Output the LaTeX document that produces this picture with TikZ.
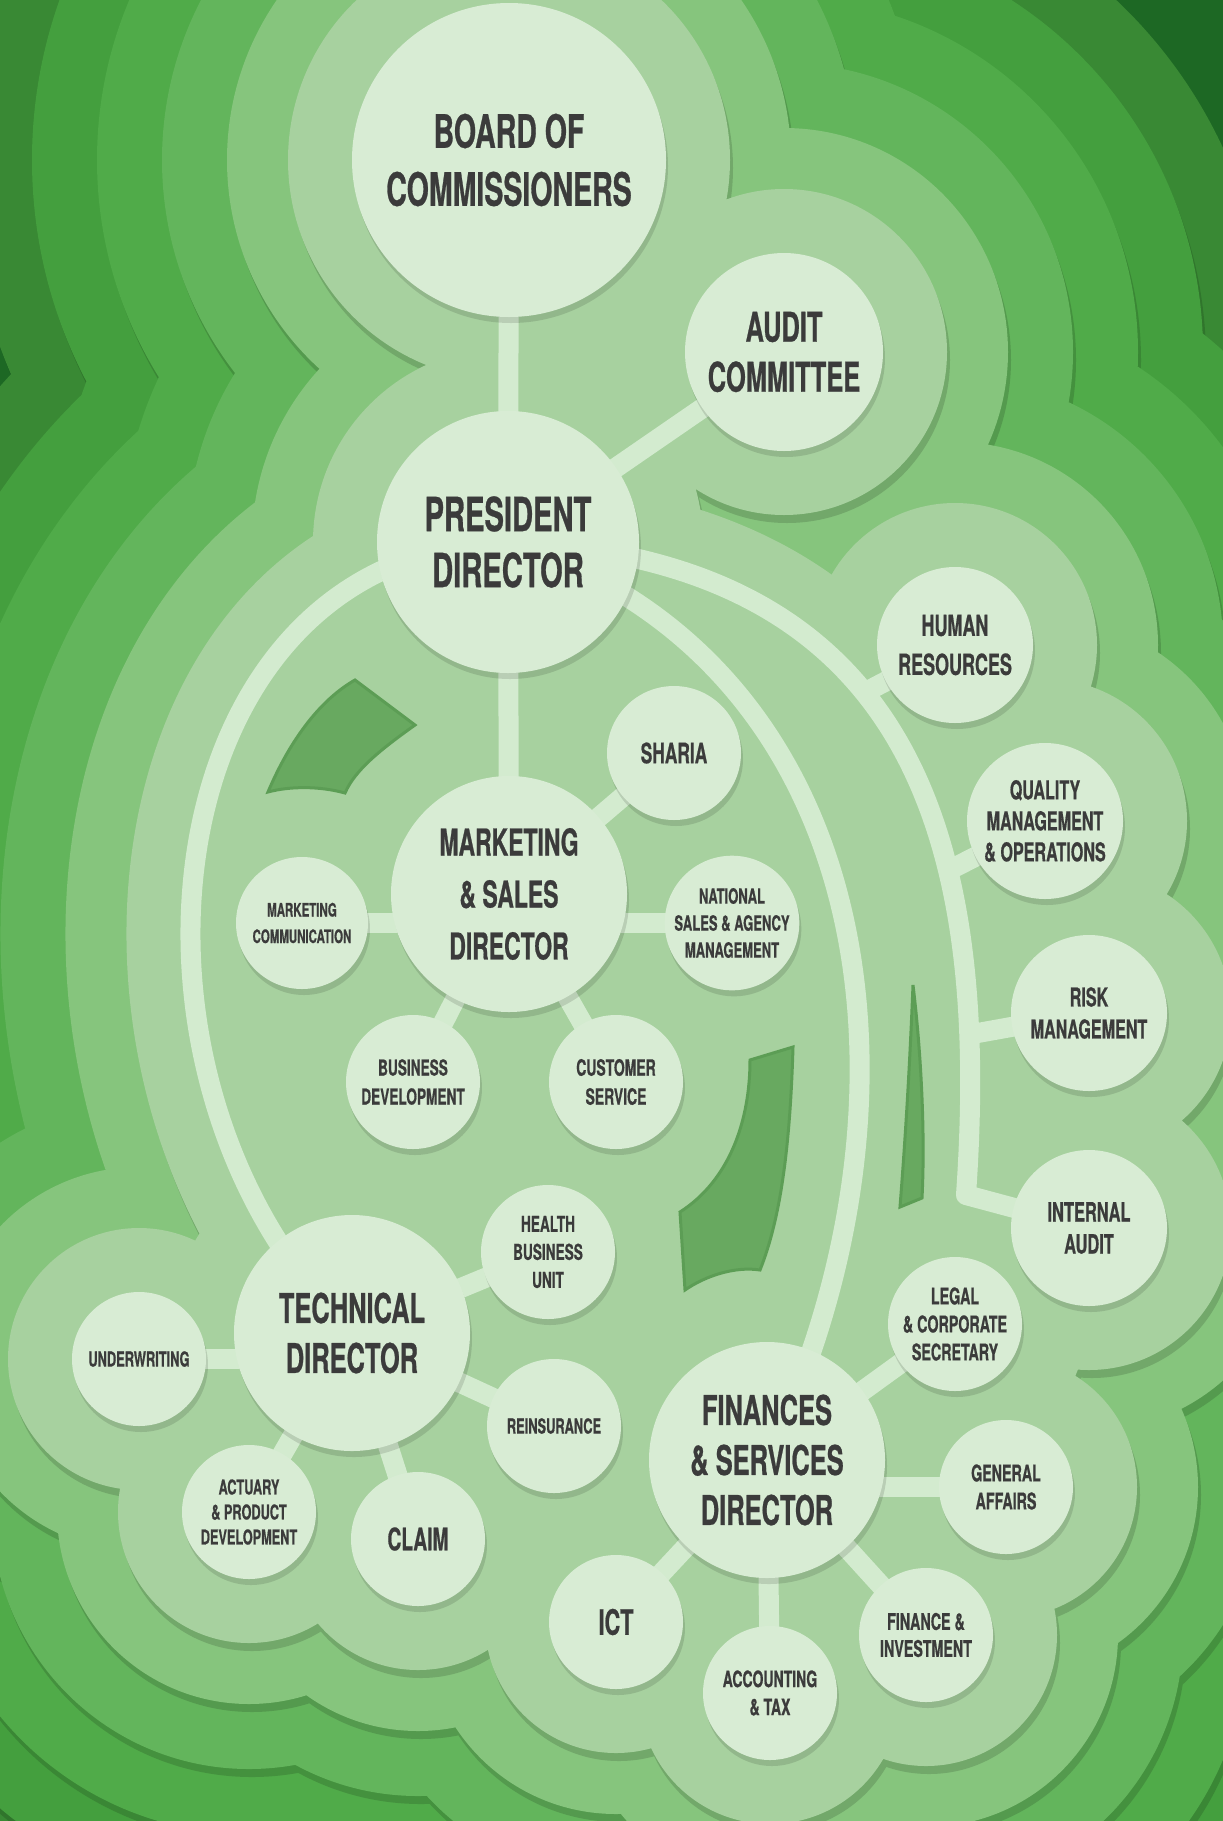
\documentclass[tikz,border=0pt]{standalone}
\usepackage{fontspec}
\setmainfont{TeX Gyre Heros}[FakeStretch=0.62, BoldFeatures={FakeBold=0.6}]
\usetikzlibrary{shadows}
\definecolor{nodefill}{HTML}{D8ECD4}
\definecolor{linkcol}{HTML}{D3EBCF}
\definecolor{ink}{HTML}{3B3B3B}
\definecolor{ringB}{HTML}{A7D19F}
\definecolor{ringC}{HTML}{86C57D}
\definecolor{ringD}{HTML}{63B55C}
\definecolor{ringE}{HTML}{50AB49}
\definecolor{ringF}{HTML}{449F3E}
\definecolor{ringG}{HTML}{398934}
\definecolor{bgdark}{HTML}{1D6824}
\definecolor{holecol}{HTML}{68A960}
\definecolor{holerim}{HTML}{5C9D55}
\pgfdeclarelayer{blobs}
\pgfdeclarelayer{links}
\pgfsetlayers{blobs,links,main}
\newcommand{\leftarc}{(pres.center) .. controls (150,550) and (90,1080) .. (tech.center)}
\newcommand{\midarc}{(pres.center) .. controls (880,660) and (940,1100) .. (fin.center)}
\newcommand{\rightarc}{(pres.center) .. controls (920,560) and (990,850) .. (bend) coordinate[pos=0.42] (hrjoin) coordinate[pos=0.66] (qmjoin) coordinate[pos=0.84] (rkjoin) -- (inaud.center)}
\newcommand{\blob}[2]{\fill[#2] \foreach \n/\r in {board/157,audit/99,pres/131,hr/78,sharia/67,mkt/118,mcomm/66,natsales/66,qmo/78,busdev/67,cserv/67,risk/78,inaud/78,health/67,tech/118,underw/67,reins/67,actuary/67,claim/67,legal/67,fin/118,genaff/67,ict/67,acctax/67,fininv/67} {(\n.center) circle ({\r+#1})}; \draw[#2, line width={2*#1*1pt}] \leftarc \midarc \rightarc;}
% ring with its shadow cast on the ring below
\newcommand{\ring}[3]{\begin{scope}[transform canvas={xshift=3pt, yshift=-8pt}] \blob{#1}{#3} \end{scope} \blob{#1}{#2}}
\newcommand{\core}[1]{\fill[#1] (pres.center) .. controls (150,550) and (90,1080) .. (tech.center) -- (fin.center) -- (inaud.center) -- (bend) .. controls (990,850) and (920,560) .. (pres.center) -- cycle; \fill[#1] (board.center) -- (audit.center) -- (pres.center) -- cycle;}
\tikzset{
  orgcircle/.style={circle, fill=nodefill, text=ink, align=center, inner sep=0pt, minimum size=#1*2pt,
    drop shadow={shadow xshift=2pt, shadow yshift=-6pt, opacity=0.12, fill=black}},
  lbl/.style 2 args={font=\fontsize{#1}{#2}\selectfont\bfseries},
  link/.style={draw=linkcol, line width=20pt},
  hole/.style={fill=holecol, draw=holerim, line width=3pt}
}

\begin{document}
\begin{tikzpicture}[x=1pt, y=-1pt]
        \useasboundingbox (0,0) rectangle (1223,1821);
        % top
        \node[orgcircle=157, lbl={46}{58}] (board) at (509,160) {BOARD OF\\COMMISSIONERS};
        \node[orgcircle=99, lbl={41}{50}] (audit) at (784,352) {AUDIT\\COMMITTEE};
        \node[orgcircle=131, lbl={47}{56}] (pres) at (508,542) {PRESIDENT\\DIRECTOR};
        % right column
        \node[orgcircle=78, lbl={29}{39}] (hr) at (955,645) {HUMAN\\RESOURCES};
        \node[orgcircle=78, lbl={26}{31}] (qmo) at (1045,821) {QUALITY\\MANAGEMENT\\\& OPERATIONS};
        \node[orgcircle=78, lbl={26}{32}] (risk) at (1089,1013) {RISK\\MANAGEMENT};
        \node[orgcircle=78, lbl={26.5}{32}] (inaud) at (1089,1228) {INTERNAL\\AUDIT};
        % marketing
        \node[orgcircle=118, lbl={37}{52}] (mkt) at (509,894) {MARKETING\\\& SALES\\DIRECTOR};
        \node[orgcircle=67, lbl={28}{34}] (sharia) at (674,753) {SHARIA};
        \node[orgcircle=66, lbl={18.5}{26.5}] (mcomm) at (302,923) {MARKETING\\COMMUNICATION};
        \node[orgcircle=66, lbl={21}{27}] (natsales) at (732,923) {NATIONAL\\SALES \& AGENCY\\MANAGEMENT};
        \node[orgcircle=67, lbl={22}{29}] (busdev) at (413,1082) {BUSINESS\\DEVELOPMENT};
        \node[orgcircle=67, lbl={22.5}{29}] (cserv) at (616,1082) {CUSTOMER\\SERVICE};
        % technical
        \node[orgcircle=118, lbl={41}{50}] (tech) at (352,1333) {TECHNICAL\\DIRECTOR};
        \node[orgcircle=67, lbl={22}{28}] (health) at (548,1252) {HEALTH\\BUSINESS\\UNIT};
        \node[orgcircle=67, lbl={20.7}{26}] (underw) at (139,1359) {UNDERWRITING};
        \node[orgcircle=67, lbl={20.7}{26}] (reins) at (554,1426) {REINSURANCE};
        \node[orgcircle=67, lbl={20.5}{25}] (actuary) at (249,1512) {ACTUARY\\\& PRODUCT\\DEVELOPMENT};
        \node[orgcircle=67, lbl={31}{36}] (claim) at (418,1539) {CLAIM};
        % finances
        \node[orgcircle=118, lbl={41}{50}] (fin) at (767,1460) {FINANCES\\\& SERVICES\\DIRECTOR};
        \node[orgcircle=67, lbl={23}{28}] (legal) at (955,1324) {LEGAL\\\& CORPORATE\\SECRETARY};
        \node[orgcircle=67, lbl={23}{28}] (genaff) at (1006,1487) {GENERAL\\AFFAIRS};
        \node[orgcircle=67, lbl={35}{40}] (ict) at (616,1622) {ICT};
        \node[orgcircle=67, lbl={22.6}{28}] (acctax) at (770,1693) {ACCOUNTING\\\& TAX};
        \node[orgcircle=67, lbl={23}{27}] (fininv) at (926,1635) {FINANCE \&\\INVESTMENT};

        \begin{pgfonlayer}{links}
        \coordinate (bend) at (966,1195);
        \draw[link] (board.center) -- (pres.center);
        \draw[link] (pres.center) -- (audit.center);
        \draw[link] (pres.center) -- (mkt.center);
        \draw[link] \leftarc;
        \draw[link] \midarc;
        \draw[link, line join=round] \rightarc;
        \draw[link] (hr.center) -- (hrjoin);
        \draw[link] (qmo.center) -- (qmjoin);
        \draw[link] (risk.center) -- (rkjoin);
        % marketing
        \draw[link] (mkt.center) -- (sharia.center);
        \draw[link] (mcomm.center) -- (mcomm.center -| mkt.center);
        \draw[link] (natsales.center) -- (natsales.center -| mkt.center);
        \draw[link] (mkt.center) -- (busdev.center);
        \draw[link] (mkt.center) -- (cserv.center);
        % technical
        \draw[link] (tech.center) -- (health.center);
        \draw[link] (underw.center) -- (underw.center -| tech.center);
        \draw[link] (tech.center) -- (reins.center);
        \draw[link] (tech.center) -- (actuary.center);
        \draw[link] (tech.center) -- (claim.center);
        % finances
        \draw[link] (fin.center) -- (legal.center);
        \draw[link] (genaff.center) -- (genaff.center -| fin.center);
        \draw[link] (fin.center) -- (ict.center);
        \draw[link] (fin.center) -- (acctax.center);
        \draw[link] (fin.center) -- (fininv.center);
        \end{pgfonlayer}

        \begin{pgfonlayer}{blobs}
        \clip (0,0) rectangle (1223,1821);
        \fill[bgdark] (0,0) rectangle (1223,1821);
        \ring{385}{ringG}{bgdark!85!black}
        \ring{320}{ringF}{ringG!85!black}
        \ring{255}{ringE}{ringF!85!black}
        \ring{190}{ringD}{ringE!85!black}
        \ring{125}{ringC}{ringD!85!black}
        \ring{64}{ringB}{ringC!85!black}
        \core{ringB}
        % holes
        \filldraw[hole] (268,792) .. controls (290,740) and (320,700) .. (355,680) -- (415,725) .. controls (380,750) and (355,770) .. (345,793) .. controls (320,786) and (290,786) .. cycle;
        \filldraw[hole] (750,1060) -- (793,1047) .. controls (790,1150) and (780,1220) .. (760,1270) .. controls (735,1266) and (705,1276) .. (685,1290) -- (680,1212) .. controls (730,1180) and (750,1120) .. cycle;
        \filldraw[hole] (913,985) .. controls (922,1060) and (925,1140) .. (922,1198) -- (900,1207) .. controls (906,1130) and (910,1060) .. cycle;
        \end{pgfonlayer}
    \end{tikzpicture}
\end{document}
